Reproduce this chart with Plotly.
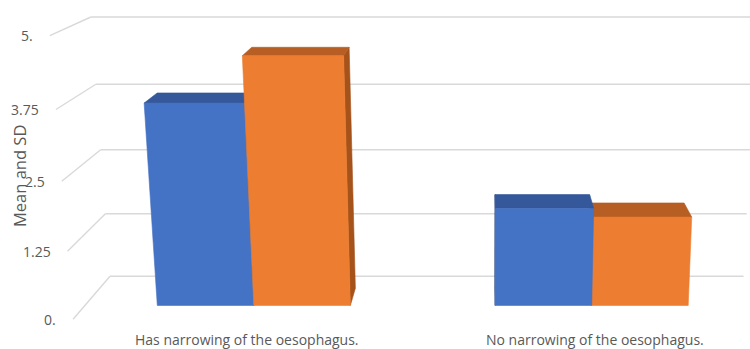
import numpy as np
import plotly.graph_objects as go

# ---- data -------------------------------------------------------------
categories = ["Has narrowing of the oesophagus.", "No narrowing of the oesophagus."]
series_names = ["Mean", "SD"]
series_mean = [3.72, 1.82]
series_sd = [4.55, 1.66]
tick_vals = [0, 1.25, 2.5, 3.75, 5]
tick_text = ["0.", "1.25", "2.5", "3.75", "5."]
axis_title = "Mean and SD"

# ---- 3-D column geometry (world units: 1 unit = 1 on the value axis) ---
W, H = 750, 349
FOCAL = 1326.0
CX, CY = 487.0, 174.5
PITCH = np.radians(14.3)
CAM = np.array([0.0, 8.205, -21.91])

X_LEFT = -7.26          # left side wall
CAT_W = 6.1             # width of one category slot
GAP_WIDTH = 1.5         # gap between clusters, as a fraction of column width
GAP_DEPTH = 1.5         # floor depth beyond the column depth
BAR_W = CAT_W / (len(series_names) + GAP_WIDTH)
BAR_D = 0.94
Z_BACK = BAR_D * (1 + GAP_DEPTH)
Z0 = (Z_BACK - BAR_D) / 2
Z1 = Z0 + BAR_D
X_RIGHT = X_LEFT + CAT_W * len(categories)

GRID = "#D9D9D9"
TEXT = "#595959"
FONT = "Open Sans"
COLORS = [
    {"front": "#4472C4", "top": "#34589A", "side": "#263F6E"},
    {"front": "#ED7D31", "top": "#B65E23", "side": "#A5521B"},
]


def project(x, y, z):
    """Perspective projection of a world point to page pixels."""
    d = np.array([x, y, z], dtype=float) - CAM
    s, c = np.sin(PITCH), np.cos(PITCH)
    yc = d[1] * c + d[2] * s
    zc = -d[1] * s + d[2] * c
    return CX + FOCAL * d[0] / zc, CY - FOCAL * yc / zc


def poly(points):
    xs, ys = zip(*[project(*p) for p in points])
    return list(xs) + [xs[0]], list(ys) + [ys[0]]


fig = go.Figure()

# ---- walls: back-wall and side-wall gridlines ----------------------------
gx, gy = [], []
for v in tick_vals:
    for a, b in [((X_LEFT, v, 0), (X_LEFT, v, Z_BACK)),
                 ((X_LEFT, v, Z_BACK), (X_RIGHT, v, Z_BACK))]:
        pa, pb = project(*a), project(*b)
        gx += [pa[0], pb[0], None]
        gy += [pa[1], pb[1], None]
fig.add_trace(go.Scatter(x=gx, y=gy, mode="lines", line=dict(color=GRID, width=1.4),
                         hoverinfo="skip", showlegend=False))

# ---- columns -------------------------------------------------------------
values = [series_mean, series_sd]
bars = []
for i, _ in enumerate(categories):
    centre = X_LEFT + (i + 0.5) * CAT_W
    start = centre - BAR_W * len(series_names) / 2
    for j, name in enumerate(series_names):
        x0 = start + j * BAR_W
        bars.append((x0, x0 + BAR_W, values[j][i], j, name))

# paint the columns furthest (sideways) from the eye first
bars.sort(key=lambda b: -abs((b[0] + b[1]) / 2 - CAM[0]))

for x0, x1, h, j, name in bars:
    col = COLORS[j]
    faces = []
    if CAM[0] > x1:
        faces.append(([(x1, 0, Z0), (x1, 0, Z1), (x1, h, Z1), (x1, h, Z0)], col["side"]))
    if CAM[0] < x0:
        faces.append(([(x0, 0, Z0), (x0, 0, Z1), (x0, h, Z1), (x0, h, Z0)], col["side"]))
    faces.append(([(x0, h, Z0), (x1, h, Z0), (x1, h, Z1), (x0, h, Z1)], col["top"]))
    faces.append(([(x0, 0, Z0), (x1, 0, Z0), (x1, h, Z0), (x0, h, Z0)], col["front"]))
    for pts, c in faces:
        px, py = poly(pts)
        fig.add_trace(go.Scatter(x=px, y=py, mode="lines", fill="toself", fillcolor=c,
                                 line=dict(color=c, width=0.6), name=name,
                                 hoverinfo="skip", showlegend=False))

# ---- value-axis labels at the front edge of the side wall ----------------
annotations = []
for v, t in zip(tick_vals, tick_text):
    ux, uy = project(X_LEFT, v, 0)
    annotations.append(dict(x=ux - 15, y=uy, text=t, showarrow=False, xanchor="right",
                            yanchor="middle", font=dict(family=FONT, size=14, color=TEXT)))

# ---- category labels under the floor --------------------------------------
for i, cat in enumerate(categories):
    ux, uy = project(X_LEFT + (i + 0.5) * CAT_W, 0, 0)
    annotations.append(dict(x=ux, y=uy + 20, text=cat, showarrow=False, xanchor="center",
                            yanchor="middle", font=dict(family=FONT, size=14, color=TEXT)))

annotations.append(dict(x=19, y=176, text=axis_title, textangle=-90, showarrow=False,
                        xanchor="center", yanchor="middle",
                        font=dict(family=FONT, size=16.5, color=TEXT)))

fig.update_layout(
    width=W, height=H, margin=dict(l=0, r=0, t=0, b=0),
    paper_bgcolor="white", plot_bgcolor="white",
    xaxis=dict(range=[0, W], visible=False, fixedrange=True),
    yaxis=dict(range=[H, 0], visible=False, fixedrange=True),
    annotations=annotations, showlegend=False,
)

fig.write_html("out.html")
